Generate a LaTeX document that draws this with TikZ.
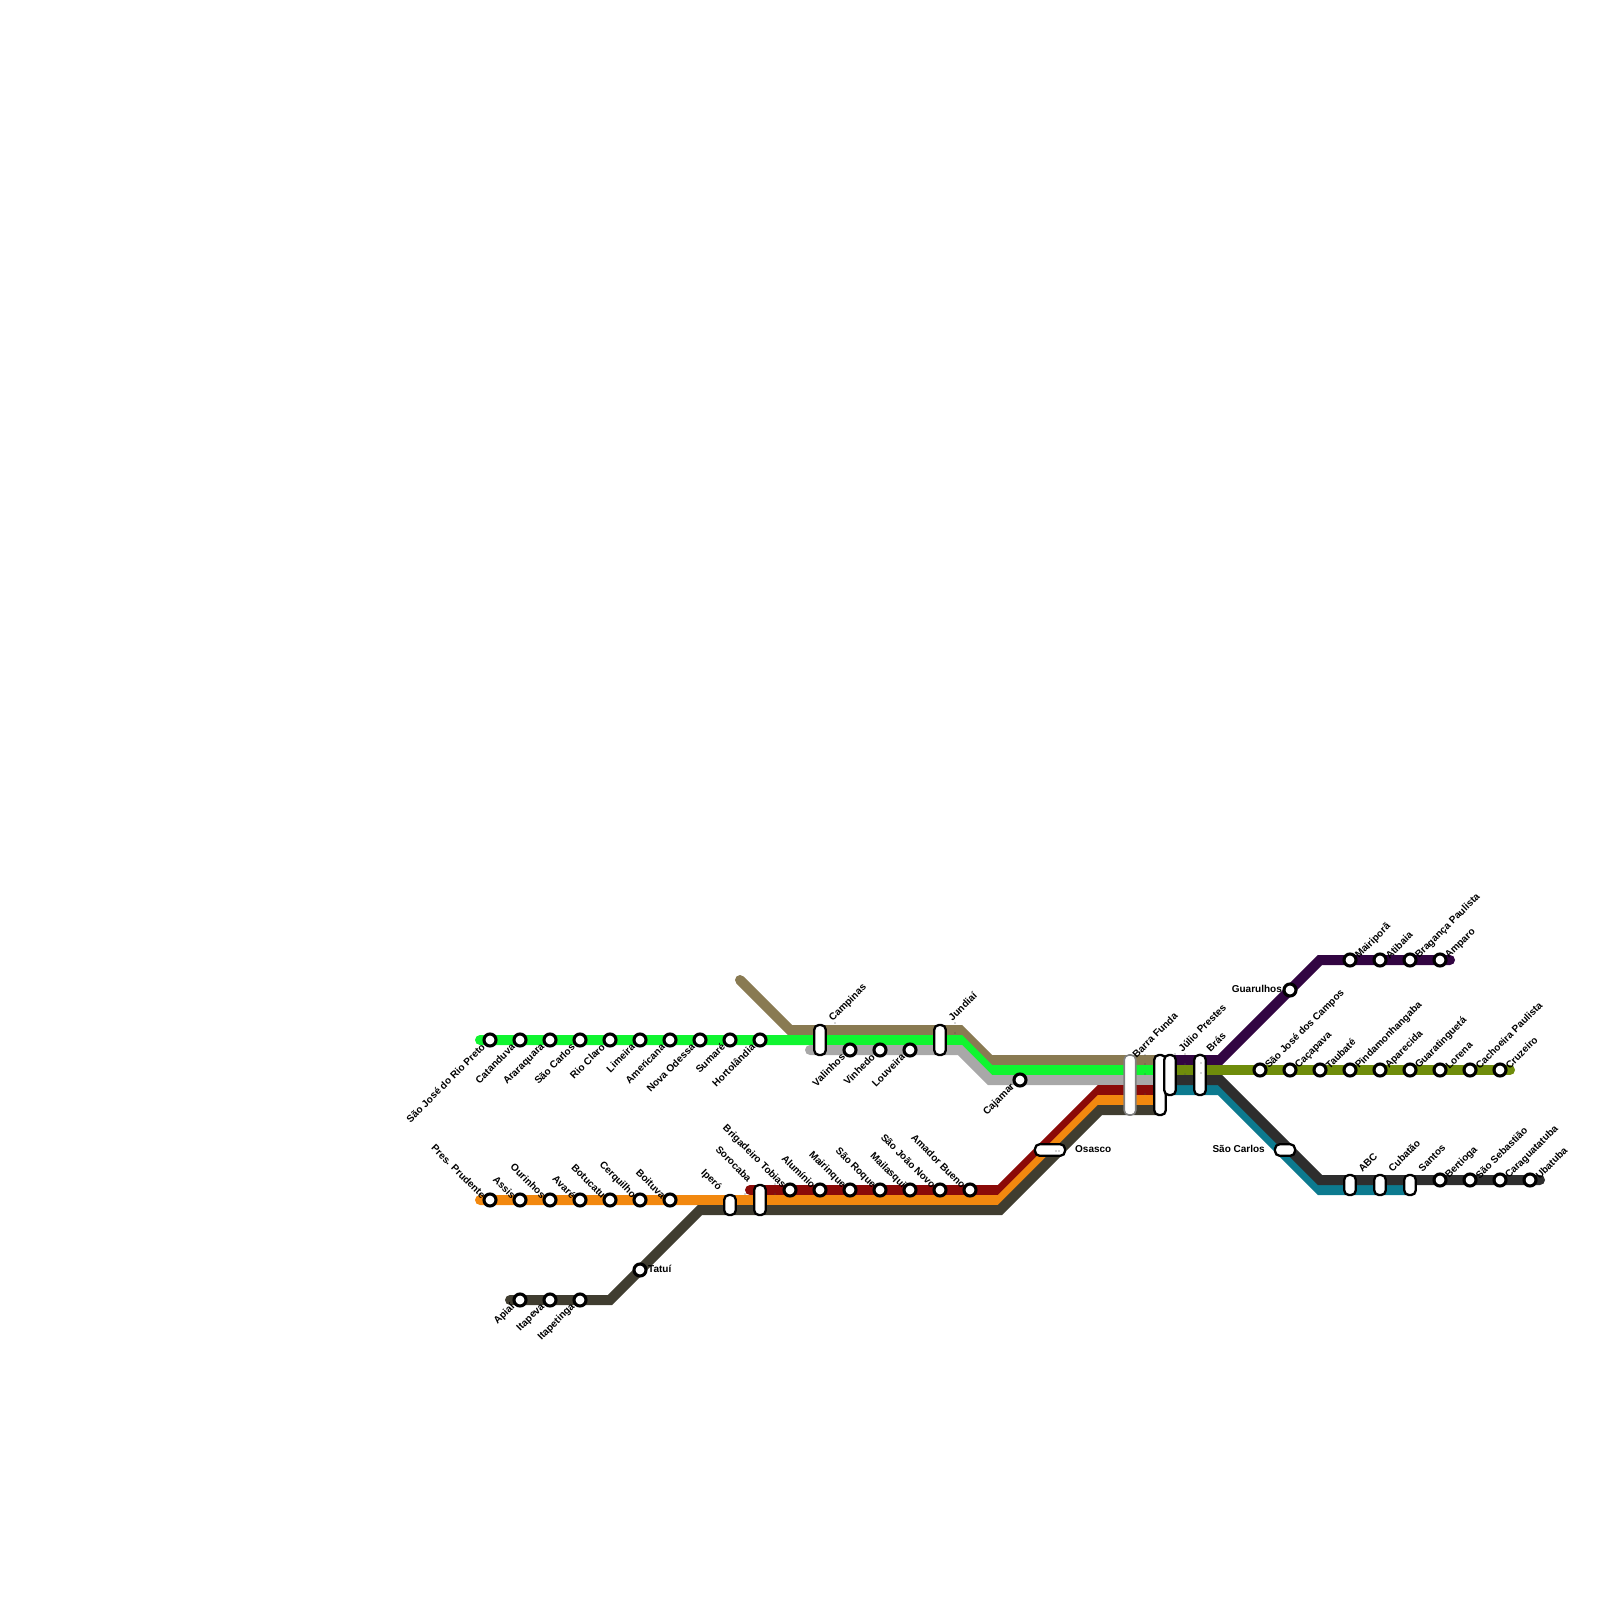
\documentclass[tikz,border=0pt]{standalone}
\usepackage{fontspec}
\setmainfont{Liberation Sans}
\newcommand{\lblfont}{\fontsize{10}{12}\selectfont\bfseries}
\newcommand{\stnlbl}[5]{\node[stn] (#1) at (#2,#3) {}; \node[#4] (#1-l) at (#1.center) {#5};}
\tikzset{
  x=1pt,y=-1pt,
  metro/.style={line width=10pt,line cap=round,line join=miter,miter limit=10},
  stn/.style={circle,draw=black,fill=white,line width=3.1pt,minimum size=12pt,inner sep=0pt},
  lbl/.style={font=\lblfont,inner sep=0pt,text=black},
  ll/.style={lbl,rotate=45,anchor=east,xshift=-8.5pt,yshift=1pt},
  ul/.style={lbl,rotate=-45,anchor=east,xshift=-6.5pt,yshift=-2pt},
  ur/.style={lbl,rotate=45,anchor=west,xshift=7pt,yshift=-3pt},
  capv/.style={draw=black,fill=white,line width=2.3pt,rounded corners=4.6pt,minimum width=11.5pt,inner sep=0pt},
  capf/.style={capv,draw=black!50,line width=1.6pt},
  caph/.style={draw=black,fill=white,line width=2.3pt,rounded corners=4.6pt,minimum height=11.5pt,inner sep=0pt},
  speck/.style={fill=black!70,circle,inner sep=0pt,minimum size=1.3pt},
}
\definecolor{cgreen}{HTML}{10F530}
\definecolor{corange}{HTML}{F2880F}
\definecolor{cred}{HTML}{8B0A08}
\definecolor{colive}{HTML}{403D30}
\definecolor{cbrown}{HTML}{897A52}
\definecolor{cgray}{HTML}{A8A8A8}
\definecolor{cpurple}{HTML}{320542}
\definecolor{cmoss}{HTML}{6F8C0B}
\definecolor{cdark}{HTML}{2E2E2E}
\definecolor{cteal}{HTML}{0C7A8F}
\begin{document}
\begin{tikzpicture}
\useasboundingbox (0,0) rectangle (1600,1600);
% routes
\foreach \n/\x/\y in {
 bA/740/980,bB/790/1030,bC/960/1030,bD/990/1060,bE/1160/1060,
 gA/480/1040,gB/960/1040,gC/990/1070,gD/1160/1070,
 yA/810/1050,yB/960/1050,yC/990/1080,yD/1160/1080,
 rA/750/1190,rB/1000/1190,rC/1100/1090,rD/1160/1090,
 oA/480/1200,oB/1000/1200,oC/1100/1100,oD/1160/1100,
 dA/510/1300,dB/610/1300,dC/700/1210,dD/1000/1210,dE/1100/1110,dF/1160/1110,
 pA/1170/1060,pB/1220/1060,pC/1320/960,pD/1450/960,
 mA/1170/1070,mB/1510/1070,
 tA/1170/1090,tB/1220/1090,tC/1320/1190,tD/1410/1190,
 kA/1170/1080,kB/1220/1080,kC/1320/1180,kD/1540/1180}
 {\coordinate (\n) at (\x,\y);}
\draw[metro,cbrown] (bA)--(bB)--(bC)--(bD)--(bE);
\draw[metro,cgreen] (gA)--(gB)--(gC)--(gD);
\draw[metro,cgray] (yA)--(yB)--(yC)--(yD);
\draw[metro,cred] (rA)--(rB)--(rC)--(rD);
\draw[metro,corange] (oA)--(oB)--(oC)--(oD);
\draw[metro,colive] (dA)--(dB)--(dC)--(dD)--(dE)--(dF);
\draw[metro,cpurple] (pA)--(pB)--(pC)--(pD);
\draw[metro,cteal] (tA)--(tB)--(tC)--(tD);
\draw[metro,cdark] (kA)--(kB)--(kC)--(kD);
\draw[metro,cmoss] (mA)--(mB);
% small marks on the lines
\foreach \n/\x/\y in {a/745/1194,b/775/1184,c/775/1194,d/835/1023,e/955/1023,f/955/1033,
 g/1145/1055,h/1145/1064,i/1145/1074,j/1145/1094,k/1175/1054,l/1185/1054,m/1185/1064,n/1185/1074}
 {\node[speck] (dot\n) at (\x,\y) {};}
% green line
\stnlbl{s01}{490}{1040}{ll}{São José do Rio Preto}
\stnlbl{s02}{520}{1040}{ll}{Catanduva}
\stnlbl{s03}{550}{1040}{ll}{Araraquara}
\stnlbl{s04}{580}{1040}{ll}{São Carlos}
\stnlbl{s05}{610}{1040}{ll}{Rio Claro}
\stnlbl{s06}{640}{1040}{ll}{Limeira}
\stnlbl{s07}{670}{1040}{ll}{Americana}
\stnlbl{s08}{700}{1040}{ll}{Nova Odessa}
\stnlbl{s09}{730}{1040}{ll}{Sumaré}
\stnlbl{s10}{760}{1040}{ll}{Hortolândia}
% gray line
\stnlbl{s11}{850}{1050}{ll}{Valinhos}
\stnlbl{s12}{880}{1050}{ll}{Vinhedo}
\stnlbl{s13}{910}{1050}{ll}{Louveira}
\stnlbl{s14}{1020}{1080}{ll}{Cajamar}
% orange line
\stnlbl{s15}{490}{1200}{ul}{Pres. Prudente}
\stnlbl{s16}{520}{1200}{ul}{Assis}
\stnlbl{s17}{550}{1200}{ul}{Ourinhos}
\stnlbl{s18}{580}{1200}{ul}{Avaré}
\stnlbl{s19}{610}{1200}{ul}{Botucatu}
\stnlbl{s20}{640}{1200}{ul}{Cerquilho}
\stnlbl{s21}{670}{1200}{ul}{Boituva}
% red line
\stnlbl{s22}{790}{1190}{ul}{Brigadeiro Tobias}
\stnlbl{s23}{820}{1190}{ul}{Alumínio}
\stnlbl{s24}{850}{1190}{ul}{Mairinque}
\stnlbl{s25}{880}{1190}{ul}{São Roque}
\stnlbl{s26}{910}{1190}{ul}{Mailasqui}
\stnlbl{s27}{940}{1190}{ul}{São João Novo}
\stnlbl{s28}{970}{1190}{ul}{Amador Bueno}
% olive line
\stnlbl{s29}{520}{1300}{ll}{Apiaí}
\stnlbl{s30}{550}{1300}{ll}{Itapeva}
\stnlbl{s31}{580}{1300}{ll}{Itapetinga}
\node[stn] (s32) at (640,1270) {};
\node[lbl,anchor=west] (s32-l) at (648,1269) {Tatuí};
% purple line
\node[stn] (s33) at (1290,990) {};
\node[lbl,anchor=east] (s33-l) at (1282,989) {Guarulhos};
\stnlbl{s34}{1350}{960}{ur}{Mairiporã}
\stnlbl{s35}{1380}{960}{ur}{Atibaia}
\stnlbl{s36}{1410}{960}{ur}{Bragança Paulista}
\stnlbl{s37}{1440}{960}{ur}{Amparo}
% moss line
\stnlbl{s38}{1260}{1070}{ur}{São José dos Campos}
\stnlbl{s39}{1290}{1070}{ur}{Caçapava}
\stnlbl{s40}{1320}{1070}{ur}{Taubaté}
\stnlbl{s41}{1350}{1070}{ur}{Pindamonhangaba}
\stnlbl{s42}{1380}{1070}{ur}{Aparecida}
\stnlbl{s43}{1410}{1070}{ur}{Guaratinguetá}
\stnlbl{s44}{1440}{1070}{ur}{Lorena}
\stnlbl{s45}{1470}{1070}{ur}{Cachoeira Paulista}
\stnlbl{s46}{1500}{1070}{ur}{Cruzeiro}
% dark line
\stnlbl{s47}{1440}{1180}{ur}{Bertioga}
\stnlbl{s48}{1470}{1180}{ur}{São Sebastião}
\stnlbl{s49}{1500}{1180}{ur}{Caraguatatuba}
\stnlbl{s50}{1530}{1180}{ur}{Ubatuba}
% interchanges
\node[capv,minimum height=30pt] (i01) at (820,1040) {};
\node[lbl,rotate=45,anchor=west] (i01-l) at (831,1020) {Campinas};
\node[capv,minimum height=30pt] (i02) at (940,1040) {};
\node[lbl,rotate=45,anchor=west] (i02-l) at (950,1019) {Jundiaí};
\node[capv,minimum height=20pt] (i03) at (730,1205) {};
\node[lbl,rotate=-45,anchor=east] (i03-l) at (720,1189) {Iperó};
\node[capv,minimum height=30pt] (i04) at (760,1200) {};
\node[lbl,rotate=-45,anchor=east] (i04-l) at (750,1180) {Sorocaba};
\node[caph,minimum width=30pt] (i05) at (1050,1150) {};
\node[lbl,anchor=west] (i05-l) at (1075,1149) {Osasco};
\node[capf,minimum height=60pt] (i06) at (1130,1085) {};
\node[lbl,rotate=45,anchor=west] (i06-l) at (1134,1056) {Barra Funda};
\node[capv,minimum height=60pt] (i07) at (1160,1085) {};
\node[capv,minimum height=40pt] (i08) at (1170,1075) {};
\node[lbl,rotate=45,anchor=west] (i08-l) at (1180,1050) {Júlio Prestes};
\node[capv,minimum height=40pt] (i09) at (1200,1075) {};
\node[lbl,rotate=45,anchor=west] (i09-l) at (1208,1050) {Brás};
\node[caph,minimum width=20pt] (i10) at (1285,1150) {};
\node[lbl,anchor=east] (i10-l) at (1265,1149) {São Carlos};
\node[capv,minimum height=20pt] (i11) at (1350,1185) {};
\node[lbl,rotate=45,anchor=west] (i11-l) at (1360,1170) {ABC};
\node[capv,minimum height=20pt] (i12) at (1380,1185) {};
\node[lbl,rotate=45,anchor=west] (i12-l) at (1390,1170) {Cubatão};
\node[capv,minimum height=20pt] (i13) at (1410,1185) {};
\node[lbl,rotate=45,anchor=west] (i13-l) at (1420,1170) {Santos};
% marks inside the interchanges
\foreach \n/\x/\y in {o/1056/1151,p/1059/1151,q/1201/1063,r/1201/1073,s/1200/1054}
 {\node[speck] (dot\n) at (\x,\y) {};}
\end{tikzpicture}
\end{document}
